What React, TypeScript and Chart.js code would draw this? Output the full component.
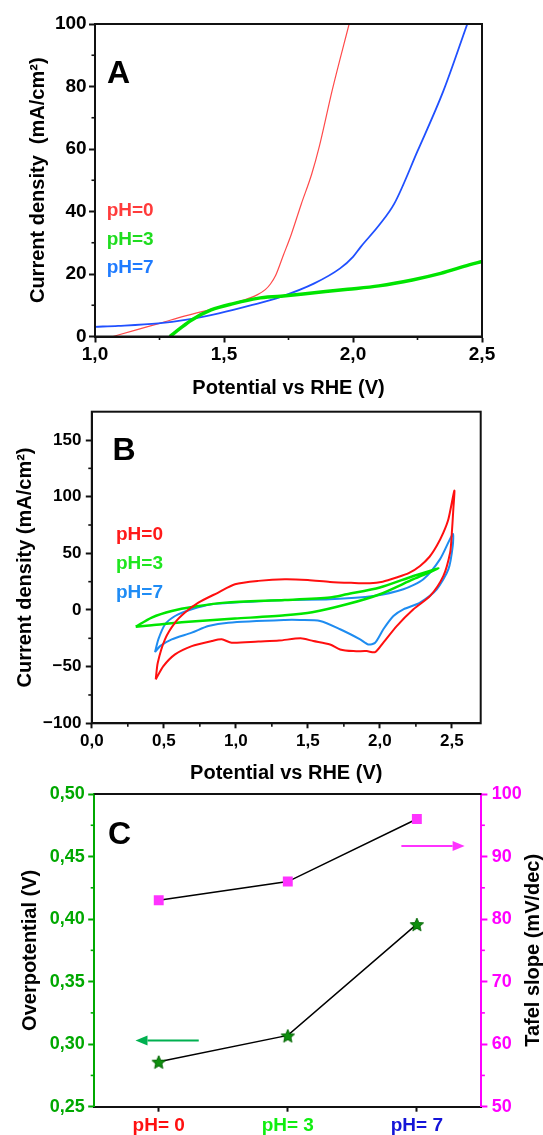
import React, { useEffect, useRef } from 'react';
import { Chart, registerables } from 'chart.js';

Chart.register(...registerables);

const W = 543;
const FONT = '"Liberation Sans", Arial, Helvetica, sans-serif';

// ---------- Panel A : LSV ----------
const lsvTicksX = [1.0, 1.5, 2.0, 2.5];
const lsvMinorX = [1.25, 1.75, 2.25];
const lsvTicksY = [0, 20, 40, 60, 80, 100];
const lsvMinorY = [10, 30, 50, 70, 90];
const lsvLegend = ['pH=0', 'pH=3', 'pH=7'];
const lsvLegendColors = ['#ff3b3b', '#1fdc1f', '#1f7bff'];
// [potential V, current density mA/cm2]
const lsvPH0: number[][] = [
  [1.07, 0], [1.15, 1.9], [1.25, 4.2], [1.35, 6.6], [1.48, 9.3], [1.58, 11.7],
  [1.63, 13.4], [1.66, 15.0], [1.68, 16.8], [1.70, 19.5], [1.73, 26.0], [1.76, 32.5],
  [1.80, 42.5], [1.84, 52.0], [1.87, 61.0], [1.92, 79.0], [1.985, 100],
];
const lsvPH3: number[][] = [
  [1.29, 0], [1.33, 2.6], [1.375, 5.3], [1.45, 8.5], [1.54, 10.6], [1.63, 12.2],
  [1.72, 12.9], [1.85, 14.0], [1.98, 15.1], [2.10, 16.2], [2.23, 18.1], [2.34, 20.2],
  [2.45, 22.9], [2.5, 24.0],
];
const lsvPH7: number[][] = [
  [1.0, 3.1], [1.09, 3.4], [1.245, 4.2], [1.35, 5.3], [1.48, 7.4], [1.61, 10.1],
  [1.72, 12.7], [1.85, 17.0], [1.95, 21.8], [2.0, 25.5], [2.03, 28.7], [2.10, 35.5],
  [2.16, 42.5], [2.25, 59.3], [2.35, 78.5], [2.443, 100],
];

// ---------- Panel B : CV ----------
const cvTicksX = [0, 0.5, 1.0, 1.5, 2.0, 2.5];
const cvMinorX = [0.25, 0.75, 1.25, 1.75, 2.25];
const cvTicksY = [-100, -50, 0, 50, 100, 150];
const cvMinorY = [-75, -25, 25, 75, 125];
const cvLegend = ['pH=0', 'pH=3', 'pH=7'];
const cvLegendColors = ['#ff1a1a', '#1fe61f', '#1f8cf5'];
const cvPH0: number[][] = [
  [0.444, -61.3], [0.458, -46.5], [0.508, -25.9], [0.578, -11.2], [0.647, -2.3], [0.74, 6.5],
  [0.878, 15.4], [0.994, 22.7], [1.156, 25.7], [1.34, 27.2], [1.5, 26.5], [1.654, 24.8],
  [1.8, 24.0], [1.931, 23.6], [2.02, 25.0], [2.117, 28.7], [2.2, 32.5], [2.279, 38.9],
  [2.345, 47.0], [2.395, 56.6], [2.44, 68.0], [2.476, 80.3], [2.517, 105.3], [2.51, 89.0],
  [2.498, 65.0], [2.488, 50.8], [2.441, 30.1], [2.349, 12.4], [2.233, 0.6], [2.117, -14.2],
  [2.024, -28.8], [1.967, -37.2], [1.909, -36.3], [1.816, -36.3], [1.724, -34.8], [1.654, -30.4],
  [1.538, -27.4], [1.45, -25.0], [1.3, -27.0], [1.156, -27.8], [0.971, -28.9], [0.902, -25.9],
  [0.833, -27.4], [0.694, -31.9], [0.578, -39.2], [0.497, -49.6], [0.444, -61.3],
];
const cvPH3: number[][] = [
  [0.305, -14.7], [0.416, -6.7], [0.555, -0.9], [0.717, 3.0], [0.925, 6.5], [1.34, 8.8],
  [1.654, 11.0], [1.77, 13.9], [2.0, 19.8], [2.233, 30.0], [2.406, 36.6], [2.233, 27.2],
  [2.0, 13.9], [1.77, 5.0], [1.53, -2.0], [1.34, -4.7], [0.994, -7.6], [0.647, -10.6],
  [0.416, -13.5], [0.305, -14.7],
];
const cvPH7: number[][] = [
  [0.439, -37.2], [0.462, -25.9], [0.508, -12.8], [0.578, -5.3], [0.694, 0.6], [0.833, 5.0],
  [0.994, 6.5], [1.34, 8.8], [1.654, 9.5], [1.955, 12.4], [2.163, 18.3], [2.302, 27.2],
  [2.418, 44.9], [2.506, 67.0], [2.506, 56.6], [2.476, 36.0], [2.395, 18.3], [2.279, 6.5],
  [2.163, 0.6], [2.094, -5.3], [2.024, -17.0], [1.967, -28.9], [1.92, -30.4], [1.863, -25.9],
  [1.724, -17.0], [1.585, -9.7], [1.446, -8.8], [1.34, -8.8], [0.948, -11.2], [0.809, -14.2],
  [0.694, -20.0], [0.555, -25.9], [0.474, -31.9], [0.439, -37.2],
];

// ---------- Panel C : overpotential / Tafel ----------
const phLabels = ['pH= 0', 'pH= 3', 'pH= 7'];
const phLabelColors = ['#ff1010', '#10ee10', '#1414d8'];
const overpotential = [0.286, 0.307, 0.396];
const tafelSlope = [83, 86, 96];
const overTicks = [0.25, 0.30, 0.35, 0.40, 0.45, 0.50];
const overMinor = [0.275, 0.325, 0.375, 0.425, 0.475];
const tafelTicks = [50, 60, 70, 80, 90, 100];
const tafelMinor = [55, 65, 75, 85, 95];
// arrows: [fromIndex, toIndex] along category axis, at a value on their axis
const overArrowX = [0.31, -0.18];
const overArrowY = 0.303;
const tafelArrowX = [1.88, 2.37];
const tafelArrowY = 91.7;

const fmt1 = (v: number) => v.toFixed(1).replace('.', ',');
const fmt2 = (v: number) => v.toFixed(2).replace('.', ',');
const fmt0 = (v: number) => String(Math.round(v)).replace('-', '\u2212');

const font = (size: number) => ({ family: FONT, size, weight: 'bold' as const });

function linAxis(o: any) {
  return {
    type: 'linear',
    position: o.position,
    bounds: 'data',
    min: o.min,
    max: o.max,
    afterBuildTicks: (s: any) => {
      s.ticks = o.ticks.map((v: number) => ({ value: v }));
    },
    afterFit: (s: any) => {
      if (o.horizontal) s.height = o.fit;
      else s.width = o.fit;
    },
    ticks: {
      callback: (v: any) => o.fmt(Number(v)),
      font: font(o.size),
      color: o.color || '#000',
      padding: o.pad,
      maxRotation: 0,
      autoSkip: false,
    },
    grid: {
      display: true,
      drawOnChartArea: false,
      drawTicks: true,
      tickLength: o.tickLen,
      tickWidth: 2,
      tickColor: o.borderColor || '#111',
    },
    border: { display: true, color: o.borderColor || '#111', width: 2 },
    title: o.title
      ? { display: true, text: o.title, font: font(20), color: '#000', padding: o.titlePad }
      : { display: false },
  };
}

function series(points: number[][], color: string, width: number, monotone: boolean) {
  return {
    data: points.map(([x, y]) => ({ x, y })),
    showLine: true,
    borderColor: color,
    backgroundColor: color,
    borderWidth: width,
    pointRadius: 0,
    fill: false,
    tension: monotone ? 0.4 : 0.25,
    cubicInterpolationMode: monotone ? 'monotone' : 'default',
  };
}

function minor(chart: any, id: string, values: number[], len: number, color: string) {
  const s = chart.scales[id];
  const a = chart.chartArea;
  const ctx = chart.ctx;
  ctx.save();
  ctx.strokeStyle = color;
  ctx.lineWidth = 1.6;
  for (const v of values) {
    const p = s.getPixelForValue(v);
    ctx.beginPath();
    if (s.isHorizontal()) {
      ctx.moveTo(p, a.bottom);
      ctx.lineTo(p, a.bottom + len);
    } else if (s.position === 'left') {
      ctx.moveTo(a.left, p);
      ctx.lineTo(a.left - len, p);
    } else {
      ctx.moveTo(a.right, p);
      ctx.lineTo(a.right + len, p);
    }
    ctx.stroke();
  }
  ctx.restore();
}

function text(ctx: any, t: string, x: number, y: number, size: number, color: string) {
  ctx.save();
  ctx.font = `bold ${size}px ${FONT}`;
  ctx.fillStyle = color;
  ctx.textAlign = 'left';
  ctx.textBaseline = 'alphabetic';
  ctx.fillText(t, x, y);
  ctx.restore();
}

function frame(chart: any) {
  const a = chart.chartArea;
  const ctx = chart.ctx;
  ctx.save();
  ctx.strokeStyle = '#111';
  ctx.lineWidth = 2;
  ctx.strokeRect(a.left, a.top, a.right - a.left, a.bottom - a.top);
  ctx.restore();
}

const base = {
  responsive: false,
  animation: false,
  devicePixelRatio: 1,
  plugins: { legend: { display: false }, tooltip: { enabled: false } },
};

function makeA(): any {
  return {
    type: 'scatter',
    data: {
      datasets: [
        series(lsvPH3, '#00e400', 3.5, true),
        series(lsvPH7, '#2050ff', 1.8, true),
        series(lsvPH0, '#ff4a4a', 1.2, true),
      ],
    },
    options: {
      ...base,
      layout: { padding: { top: 24, right: 61, left: 0, bottom: 0 } },
      scales: {
        x: linAxis({
          horizontal: true, position: 'bottom', min: 1.0, max: 2.5, ticks: lsvTicksX, fmt: fmt1,
          size: 19, pad: 1, tickLen: 6, fit: 63.5, title: 'Potential vs RHE (V)',
          titlePad: { top: 0, bottom: 0 },
        }),
        y: linAxis({
          horizontal: false, position: 'left', min: 0, max: 100, ticks: lsvTicksY, fmt: fmt0,
          size: 19, pad: 2.4, tickLen: 6, fit: 95, title: 'Current density  (mA/cm²)',
          titlePad: { top: 26, bottom: 0 },
        }),
      },
    },
    plugins: [
      {
        id: 'decorA',
        afterDraw(chart: any) {
          const a = chart.chartArea;
          frame(chart);
          minor(chart, 'x', lsvMinorX, 3.5, '#111');
          minor(chart, 'y', lsvMinorY, 3.5, '#111');
          text(chart.ctx, 'A', a.left + 12, a.top + 59, 32, '#000');
          const ys = [192, 221, 249.3];
          lsvLegend.forEach((t, i) => text(chart.ctx, t, a.left + 11.7, a.top + ys[i], 19, lsvLegendColors[i]));
        },
      },
    ],
  };
}

function makeB(): any {
  return {
    type: 'scatter',
    data: {
      datasets: [
        series(cvPH0, '#ff0f0f', 2, false),
        series(cvPH3, '#00e600', 2.5, false),
        series(cvPH7, '#1e8cf0', 2, false),
      ],
    },
    options: {
      ...base,
      layout: { padding: { top: 31.7, right: 62.3, left: 0, bottom: 0 } },
      scales: {
        x: linAxis({
          horizontal: true, position: 'bottom', min: 0, max: 2.7, ticks: cvTicksX, fmt: fmt1,
          size: 17, pad: 3.2, tickLen: 5, fit: 61.7, title: 'Potential vs RHE (V)',
          titlePad: { top: 0, bottom: 0 },
        }),
        y: linAxis({
          horizontal: false, position: 'left', min: -100, max: 175, ticks: cvTicksY, fmt: fmt0,
          size: 17, pad: 4.4, tickLen: 6, fit: 91.8, title: 'Current density (mA/cm²)',
          titlePad: { top: 13, bottom: 0 },
        }),
      },
    },
    plugins: [
      {
        id: 'decorB',
        afterDraw(chart: any) {
          const a = chart.chartArea;
          frame(chart);
          minor(chart, 'x', cvMinorX, 3.5, '#111');
          minor(chart, 'y', cvMinorY, 3.5, '#111');
          text(chart.ctx, 'B', a.left + 20.7, a.top + 48.3, 32, '#000');
          const ys = [128.3, 157.3, 186.3];
          cvLegend.forEach((t, i) => text(chart.ctx, t, a.left + 24.2, a.top + ys[i], 19, cvLegendColors[i]));
        },
      },
    ],
  };
}

function makeStar(size: number, fillColor: string, strokeColor: string) {
  const c = document.createElement('canvas');
  c.width = size;
  c.height = size;
  const g = c.getContext('2d')!;
  const cx = size / 2;
  const R = size / 2 - 1;
  const r = R * 0.45;
  g.beginPath();
  for (let i = 0; i < 10; i++) {
    const ang = -Math.PI / 2 + (i * Math.PI) / 5;
    const rad = i % 2 === 0 ? R : r;
    g.lineTo(cx + rad * Math.cos(ang), cx + 1 + rad * Math.sin(ang));
  }
  g.closePath();
  g.fillStyle = fillColor;
  g.fill();
  g.strokeStyle = strokeColor;
  g.lineWidth = 1;
  g.stroke();
  return c;
}

function arrow(ctx: any, x1: number, y1: number, x2: number, y2: number, color: string) {
  const head = 12;
  const half = 5;
  const dir = Math.sign(x2 - x1);
  ctx.save();
  ctx.strokeStyle = color;
  ctx.fillStyle = color;
  ctx.lineWidth = 2;
  ctx.beginPath();
  ctx.moveTo(x1, y1);
  ctx.lineTo(x2 - dir * head, y2);
  ctx.stroke();
  ctx.beginPath();
  ctx.moveTo(x2, y2);
  ctx.lineTo(x2 - dir * head, y2 - half);
  ctx.lineTo(x2 - dir * head, y2 + half);
  ctx.closePath();
  ctx.fill();
  ctx.restore();
}

function makeC(): any {
  const star = makeStar(16, '#0f8f0f', '#006400');
  const green = '#00a800';
  const magenta = '#ff00ff';
  return {
    type: 'line',
    data: {
      labels: phLabels,
      datasets: [
        {
          data: overpotential,
          yAxisID: 'y',
          borderColor: '#000',
          borderWidth: 1.5,
          pointStyle: star,
          pointRadius: 8,
          tension: 0,
        },
        {
          data: tafelSlope,
          yAxisID: 'y1',
          borderColor: '#000',
          borderWidth: 1.5,
          pointStyle: 'rect',
          pointRadius: 7,
          pointBackgroundColor: '#ff33ff',
          pointBorderColor: '#ff33ff',
          pointBorderWidth: 0,
          tension: 0,
        },
      ],
    },
    options: {
      ...base,
      layout: { padding: { top: 24, right: 0, left: 0, bottom: 0 } },
      scales: {
        x: {
          type: 'category',
          offset: true,
          afterFit: (s: any) => {
            s.height = 28.3;
          },
          ticks: {
            font: font(19),
            color: (c: any) => phLabelColors[c.index],
            padding: 2.5,
            maxRotation: 0,
            autoSkip: false,
          },
          grid: {
            display: true,
            offset: false,
            drawOnChartArea: false,
            drawTicks: true,
            tickLength: 5,
            tickWidth: 2,
            tickColor: '#111',
          },
          border: { display: true, color: '#111', width: 2 },
        },
        y: linAxis({
          horizontal: false, position: 'left', min: 0.25, max: 0.5, ticks: overTicks, fmt: fmt2,
          size: 18, pad: 3.4, tickLen: 6, fit: 94.2, title: 'Overpotential (V)',
          titlePad: { top: 18.6, bottom: 0 }, color: green, borderColor: green,
        }),
        y1: linAxis({
          horizontal: false, position: 'right', min: 50, max: 100, ticks: tafelTicks, fmt: fmt0,
          size: 18, pad: 4.4, tickLen: 6, fit: 61.6, color: magenta, borderColor: magenta,
        }),
      },
    },
    plugins: [
      {
        id: 'decorC',
        afterDraw(chart: any) {
          const a = chart.chartArea;
          const ctx = chart.ctx;
          ctx.save();
          ctx.strokeStyle = '#111';
          ctx.lineWidth = 2;
          ctx.beginPath();
          ctx.moveTo(a.left, a.top);
          ctx.lineTo(a.right, a.top);
          ctx.stroke();
          ctx.restore();
          minor(chart, 'y', overMinor, 3.5, green);
          minor(chart, 'y1', tafelMinor, 3.5, magenta);
          text(ctx, 'C', a.left + 13.8, a.top + 50, 32, '#000');
          const sx = chart.scales.x;
          const sy = chart.scales.y;
          const sy1 = chart.scales.y1;
          const gy = sy.getPixelForValue(overArrowY);
          arrow(ctx, sx.getPixelForValue(overArrowX[0]), gy, sx.getPixelForValue(overArrowX[1]), gy, '#00b050');
          const my = sy1.getPixelForValue(tafelArrowY);
          arrow(ctx, sx.getPixelForValue(tafelArrowX[0]), my, sx.getPixelForValue(tafelArrowX[1]), my, '#ff33ff');
          // right axis title, reading bottom-to-top
          ctx.save();
          ctx.translate(a.right + 51.6, (a.top + a.bottom) / 2);
          ctx.rotate(-Math.PI / 2);
          ctx.font = `bold 20px ${FONT}`;
          ctx.fillStyle = '#000';
          ctx.textAlign = 'center';
          ctx.textBaseline = 'middle';
          ctx.fillText('Tafel slope (mV/dec)', 0, 0);
          ctx.restore();
        },
      },
    ],
  };
}

function ChartBox({ top, height, make }: { top: number; height: number; make: () => any }) {
  const ref = useRef<HTMLCanvasElement | null>(null);
  useEffect(() => {
    if (!ref.current) return;
    const chart = new Chart(ref.current, make());
    return () => chart.destroy();
  }, [make]);
  return (
    <canvas
      ref={ref}
      width={W}
      height={height}
      style={{ position: 'absolute', left: 0, top, width: W, height, display: 'block' }}
    />
  );
}

export default function App() {
  return (
    <div
      style={{
        position: 'absolute',
        left: 0,
        top: 0,
        width: W,
        height: 1135,
        background: '#fff',
        overflow: 'hidden',
      }}
    >
      <ChartBox top={0} height={400} make={makeA} />
      <ChartBox top={380} height={405} make={makeB} />
      <ChartBox top={770} height={365} make={makeC} />
    </div>
  );
}
